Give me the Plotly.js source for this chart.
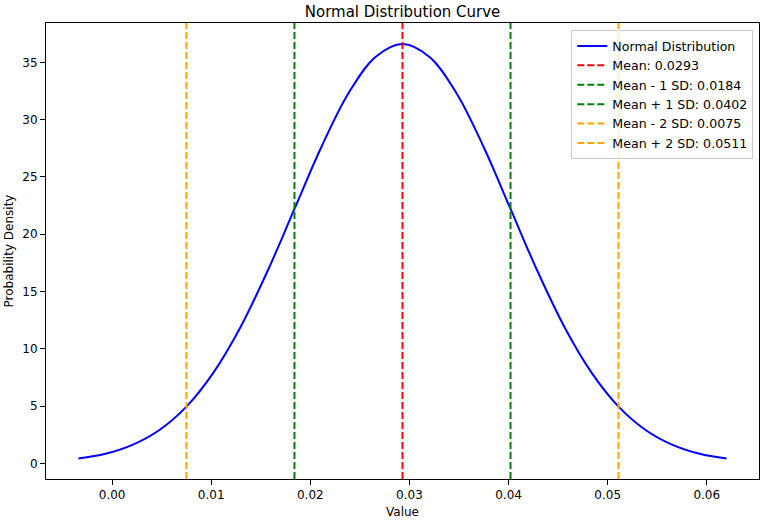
<!DOCTYPE html>
<html>
<head>
<meta charset="utf-8">
<script src="https://cdn.plot.ly/plotly-3.0.1.min.js"></script>
<style>html,body{margin:0;padding:0;background:#fff;}#chart{width:762px;height:521px;}</style>
</head>
<body>
<div id="chart"></div>
<script>
// Curve samples
const curveX = [-0.0034, -0.000675, 0.00205, 0.004775, 0.0075, 0.010225, 0.01295, 0.015675, 0.0184, 0.021125, 0.02385, 0.026575, 0.0293, 0.032025, 0.03475, 0.037475, 0.0402, 0.042925, 0.04565, 0.048375, 0.0511, 0.053825, 0.05655, 0.059275, 0.062];
const curveY = [0.41, 0.83, 1.61, 2.91, 4.95, 7.92, 11.88, 16.76, 22.20, 27.63, 32.30, 35.47, 36.60, 35.47, 32.30, 27.63, 22.20, 16.76, 11.88, 7.92, 4.95, 2.91, 1.61, 0.83, 0.41];

// Reference lines
const lineNames = ["Mean: 0.0293", "Mean - 1 SD: 0.0184", "Mean + 1 SD: 0.0402", "Mean - 2 SD: 0.0075", "Mean + 2 SD: 0.0511"];
const lineValues = [0.0293, 0.0184, 0.0402, 0.0075, 0.0511];
const lineColors = ["#ff0000", "#008000", "#008000", "#ffa500", "#ffa500"];

const xTicks = [0.00, 0.01, 0.02, 0.03, 0.04, 0.05, 0.06];
const xTickText = ["0.00", "0.01", "0.02", "0.03", "0.04", "0.05", "0.06"];
const yTicks = [0, 5, 10, 15, 20, 25, 30, 35];

const traces = [{
  x: curveX, y: curveY, type: 'scatter', mode: 'lines', name: 'Normal Distribution',
  line: {color: '#0000ff', width: 2, shape: 'spline', smoothing: 1.0}
}];
lineValues.forEach((v, i) => {
  traces.push({
    x: [v, v], y: [0, 1], yaxis: 'y2', type: 'scatter', mode: 'lines', name: lineNames[i],
    line: {color: lineColors[i], width: 2, dash: '7px,3px'}
  });
});

const font = {family: 'DejaVu Sans, sans-serif', size: 12, color: '#000'};
const layout = {
  width: 762, height: 521,
  margin: {l: 46, r: 3, t: 23, b: 42},
  paper_bgcolor: '#fff', plot_bgcolor: '#fff',
  font: font,
  showlegend: true,
  title: {text: 'Normal Distribution Curve', font: {family: 'DejaVu Sans, sans-serif', size: 15, color: '#000'}, x: 0.5283, xanchor: 'center', y: 0.978, yanchor: 'middle'},
  xaxis: {
    range: [-0.00667, 0.06527], tickmode: 'array', tickvals: xTicks, ticktext: xTickText,
    ticks: 'outside', ticklen: 5, tickwidth: 1, tickcolor: '#000',
    showgrid: false, zeroline: false, showline: true, linecolor: '#000', linewidth: 1, mirror: true,
    title: {text: 'Value', font: font, standoff: 6}, tickfont: font
  },
  yaxis: {
    range: [-1.37, 38.43], tickmode: 'array', tickvals: yTicks,
    ticks: 'outside', ticklen: 5, tickwidth: 1, tickcolor: '#000',
    showgrid: false, zeroline: false, showline: true, linecolor: '#000', linewidth: 1, mirror: true,
    title: {text: 'Probability Density', font: font, standoff: 6}, tickfont: font
  },
  yaxis2: {overlaying: 'y', range: [0, 1], visible: false, fixedrange: true},
  legend: {
    x: 0.992, xanchor: 'right', y: 0.984, yanchor: 'top',
    bgcolor: 'rgba(255,255,255,0.8)', bordercolor: '#cccccc', borderwidth: 1,
    font: {family: 'DejaVu Sans, sans-serif', size: 12.6, color: '#000'}, tracegroupgap: 0, itemwidth: 30
  }
};
Plotly.newPlot('chart', traces, layout, {displayModeBar: false, staticPlot: true});
</script>
</body>
</html>
